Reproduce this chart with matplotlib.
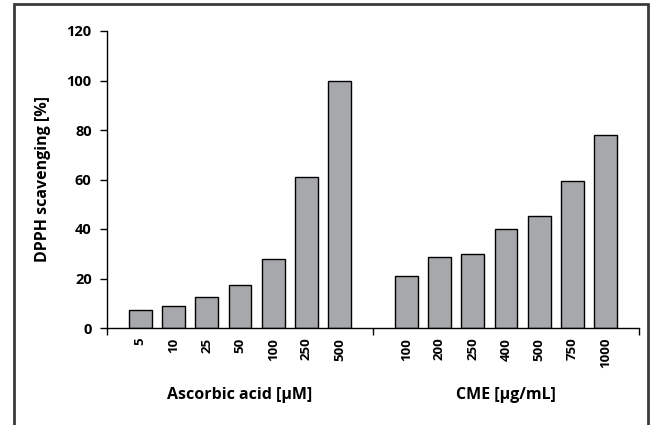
import matplotlib
matplotlib.use("Agg")
from matplotlib import pyplot as plt
from matplotlib.patches import Rectangle

# data
aa_labels = ['5', '10', '25', '50', '100', '250', '500']
aa_values = [7.2, 8.8, 12.4, 17.4, 28, 61, 100]
cme_labels = ['100', '200', '250', '400', '500', '750', '1000']
cme_values = [21, 28.5, 30, 40, 45.3, 59.4, 78]
group_names = ['Ascorbic acid [\u00b5M]', 'CME [\u00b5g/mL]']

plt.rcParams['font.family'] = ['Open Sans', 'DejaVu Sans']
plt.rcParams['font.weight'] = 'bold'

fig = plt.figure(figsize=(6.54, 4.25), dpi=100)
ax = fig.add_axes([107 / 654, 1 - 328 / 425, (639 - 107) / 654, (328 - 31) / 425])

# slot positions: group 1 at 1..7, gap at 8, group 2 at 9..15
aa_x = list(range(1, len(aa_values) + 1))
cme_x = list(range(9, 9 + len(cme_values)))

ax.bar(aa_x, aa_values, width=0.69, color='#a7a8ab', edgecolor='black', linewidth=1)
ax.bar(cme_x, cme_values, width=0.69, color='#a7a8ab', edgecolor='black', linewidth=1)

ax.set_xlim(0, 16)
ax.set_ylim(0, 120)
ax.set_yticks(range(0, 121, 20))
ax.tick_params(axis='y', length=5, width=1, pad=6, labelsize=10.5)

# category labels without tick marks, separators as minor ticks
ax.set_xticks(aa_x + cme_x)
ax.set_xticklabels(aa_labels + cme_labels, rotation=90, fontsize=9.5, fontweight='bold')
ax.tick_params(axis='x', which='major', length=0, pad=7)
ax.set_xticks([0, 8, 16], minor=True)
ax.tick_params(axis='x', which='minor', length=5, width=1)

for lab in ax.get_yticklabels():
    lab.set_fontweight('bold')

ax.spines['top'].set_visible(False)
ax.spines['right'].set_visible(False)
ax.spines['left'].set_linewidth(1)
ax.spines['bottom'].set_linewidth(1)

ax.set_ylabel('DPPH scavenging [%]', fontsize=11.5, fontweight='bold', labelpad=11)

# group captions under the tick labels
ax.text(4, -27.1, group_names[0], ha='center', va='center', fontsize=11.5,
        fontweight='bold', transform=ax.transData)
ax.text(12, -27.1, group_names[1], ha='center', va='center', fontsize=11.5,
        fontweight='bold', transform=ax.transData)

# outer frame, cut off at the bottom
fig.patches.append(Rectangle((14 / 654, -0.02), (648 - 14) / 654, 1.02 - 4 / 425,
                             transform=fig.transFigure, fill=False,
                             edgecolor='#3a3a3a', linewidth=2))

fig.savefig('out.png', dpi=100)
